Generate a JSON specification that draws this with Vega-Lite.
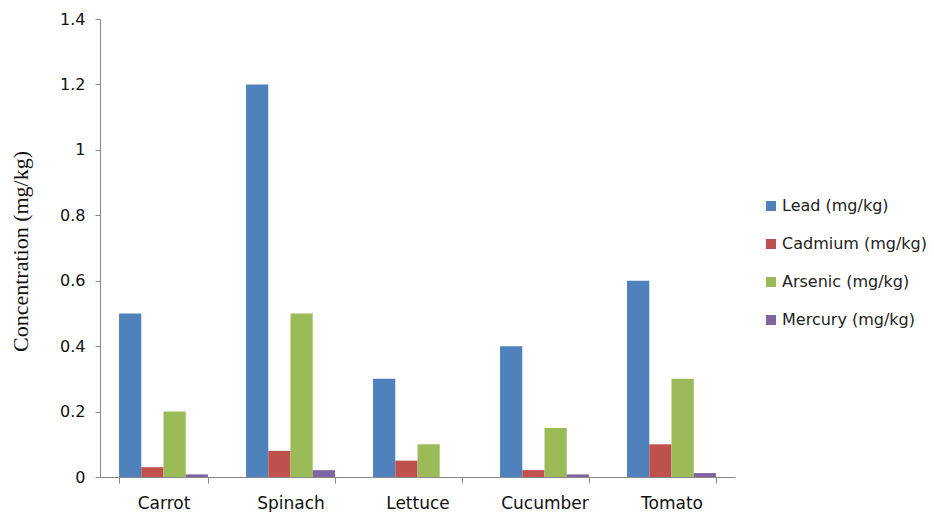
{
  "$schema": "https://vega.github.io/schema/vega-lite/v6.json",
  "width": 635,
  "height": 458,
  "autosize": "none",
  "padding": {"left": 100, "top": 19, "right": 199, "bottom": 35},
  "background": "white",
  "config": {
    "view": {"stroke": null},
    "font": "DejaVu Sans"
  },
  "data": {
    "values": [
      {"veg": "Carrot", "metal": "Lead (mg/kg)", "value": 0.5},
      {"veg": "Carrot", "metal": "Cadmium (mg/kg)", "value": 0.03},
      {"veg": "Carrot", "metal": "Arsenic (mg/kg)", "value": 0.2},
      {"veg": "Carrot", "metal": "Mercury (mg/kg)", "value": 0.008},
      {"veg": "Spinach", "metal": "Lead (mg/kg)", "value": 1.2},
      {"veg": "Spinach", "metal": "Cadmium (mg/kg)", "value": 0.08},
      {"veg": "Spinach", "metal": "Arsenic (mg/kg)", "value": 0.5},
      {"veg": "Spinach", "metal": "Mercury (mg/kg)", "value": 0.021},
      {"veg": "Lettuce", "metal": "Lead (mg/kg)", "value": 0.3},
      {"veg": "Lettuce", "metal": "Cadmium (mg/kg)", "value": 0.05},
      {"veg": "Lettuce", "metal": "Arsenic (mg/kg)", "value": 0.1},
      {"veg": "Lettuce", "metal": "Mercury (mg/kg)", "value": 0},
      {"veg": "Cucumber", "metal": "Lead (mg/kg)", "value": 0.4},
      {"veg": "Cucumber", "metal": "Cadmium (mg/kg)", "value": 0.021},
      {"veg": "Cucumber", "metal": "Arsenic (mg/kg)", "value": 0.15},
      {"veg": "Cucumber", "metal": "Mercury (mg/kg)", "value": 0.008},
      {"veg": "Tomato", "metal": "Lead (mg/kg)", "value": 0.6},
      {"veg": "Tomato", "metal": "Cadmium (mg/kg)", "value": 0.1},
      {"veg": "Tomato", "metal": "Arsenic (mg/kg)", "value": 0.3},
      {"veg": "Tomato", "metal": "Mercury (mg/kg)", "value": 0.012}
    ]
  },
  "mark": {"type": "bar"},
  "encoding": {
    "x": {
      "field": "veg",
      "type": "nominal",
      "sort": ["Carrot", "Spinach", "Lettuce", "Cucumber", "Tomato"],
      "scale": {"paddingInner": 0.3, "paddingOuter": 0.15},
      "axis": {
        "title": null,
        "labelAngle": 0,
        "tickBand": "extent",
        "labelFont": "DejaVu Sans",
        "labelFontSize": 17,
        "labelColor": "#111",
        "labelPadding": 12,
        "tickSize": 6,
        "tickColor": "#888",
        "domainColor": "#888",
        "grid": false
      }
    },
    "xOffset": {
      "field": "metal",
      "sort": ["Lead (mg/kg)", "Cadmium (mg/kg)", "Arsenic (mg/kg)", "Mercury (mg/kg)"],
      "scale": {"paddingInner": 0, "paddingOuter": 0}
    },
    "y": {
      "field": "value",
      "type": "quantitative",
      "scale": {"domain": [0, 1.4], "nice": false},
      "axis": {
        "title": "Concentration (mg/kg)",
        "titleFont": "Liberation Serif",
        "titleFontSize": 22,
        "titleFontWeight": "normal",
        "titleColor": "#111",
        "titleAngle": -90,
        "titleX": -80,
        "titleY": 232,
        "titleAlign": "center",
        "titleBaseline": "middle",
        "values": [0, 0.2, 0.4, 0.6, 0.8, 1, 1.2, 1.4],
        "format": "~g",
        "labelFont": "DejaVu Sans",
        "labelFontSize": 16,
        "labelColor": "#111",
        "labelPadding": 10,
        "tickSize": 5,
        "tickColor": "#888",
        "domainColor": "#888",
        "grid": false
      }
    },
    "color": {
      "field": "metal",
      "type": "nominal",
      "sort": ["Lead (mg/kg)", "Cadmium (mg/kg)", "Arsenic (mg/kg)", "Mercury (mg/kg)"],
      "scale": {
        "domain": ["Lead (mg/kg)", "Cadmium (mg/kg)", "Arsenic (mg/kg)", "Mercury (mg/kg)"],
        "range": ["#4F81BD", "#C0504D", "#9BBB59", "#8064A2"]
      },
      "legend": {
        "title": null,
        "orient": "none",
        "legendX": 663,
        "legendY": 179,
        "symbolType": "square",
        "symbolSize": 100,
        "symbolStrokeWidth": 0,
        "labelFont": "DejaVu Sans",
        "labelFontSize": 16,
        "labelColor": "#222",
        "labelOffset": 3,
        "rowPadding": 22
      }
    }
  }
}
